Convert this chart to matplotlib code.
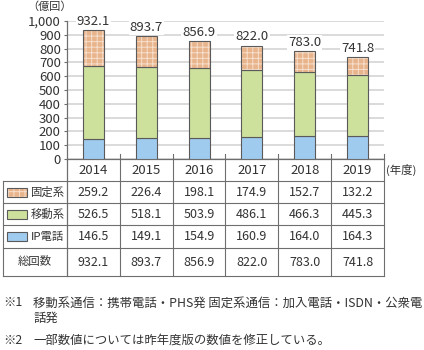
import matplotlib
matplotlib.use("Agg")
import matplotlib.pyplot as plt
from matplotlib.patches import Rectangle
from matplotlib.transforms import blended_transform_factory

plt.rcParams['font.family'] = ['Noto Sans CJK JP', 'DejaVu Sans']
plt.rcParams['hatch.linewidth'] = 0.7

years = ['2014', '2015', '2016', '2017', '2018', '2019']
fixed = [259.2, 226.4, 198.1, 174.9, 152.7, 132.2]
mobile = [526.5, 518.1, 503.9, 486.1, 466.3, 445.3]
ip_phone = [146.5, 149.1, 154.9, 160.9, 164.0, 164.3]
total = [932.1, 893.7, 856.9, 822.0, 783.0, 741.8]
series_names = ['固定系', '移動系', 'IP電話']
total_name = '総回数'
yticks = [0, 100, 200, 300, 400, 500, 600, 700, 800, 900, 1000]

C_FIXED = '#E8B48C'
C_HATCH = '#F6DFCC'
C_MOBILE = '#CDE09C'
C_IP = '#9FCBEF'
EDGE = '#5a5a5a'
GRID = '#d4d4d4'
LINE = '#6e6e6e'
TXT = '#333333'

W, H = 424, 350
fig = plt.figure(figsize=(W / 100, H / 100), dpi=100)


def fx(p):
    return p / W


def fy(p):
    return 1 - p / H


ax = fig.add_axes([fx(67), fy(159), fx(384) - fx(67), fy(21) - fy(159)])
x = list(range(len(years)))
bw = 0.4

bottom_mobile = ip_phone
bottom_fixed = [a + b for a, b in zip(ip_phone, mobile)]

ax.bar(x, ip_phone, bw, color=C_IP, edgecolor=EDGE, linewidth=0.8, zorder=3)
ax.bar(x, mobile, bw, bottom=bottom_mobile, color=C_MOBILE, edgecolor=EDGE,
       linewidth=0.8, zorder=3)
# checkered fill: light hatch first, then the dark outline on top
ax.bar(x, fixed, bw, bottom=bottom_fixed, color=C_FIXED, edgecolor=C_HATCH,
       hatch='+++', linewidth=0, zorder=3)
ax.bar(x, fixed, bw, bottom=bottom_fixed, facecolor='none', edgecolor=EDGE,
       linewidth=0.8, zorder=4)

for xi, t in zip(x, total):
    ax.annotate(f'{t:.1f}', (xi, t), xytext=(0, 1.5), textcoords='offset points',
                ha='center', va='bottom', fontsize=9.5, color=TXT, zorder=5,
                bbox=dict(boxstyle='square,pad=0.08', fc='white', ec='none'))

ax.set_xlim(-0.5, len(years) - 0.5)
ax.set_ylim(0, 1000)
ax.set_yticks(yticks)
ax.set_yticklabels([f'{v:,}' for v in yticks], fontsize=9.5, color=TXT)
ax.set_xticks([])
ax.yaxis.grid(True, color=GRID, linewidth=1.2, zorder=0)
ax.set_axisbelow(True)
ax.tick_params(axis='y', length=2.5, width=0.8, color=LINE, pad=2)
for s in ['top', 'right']:
    ax.spines[s].set_visible(False)
ax.spines['left'].set_color(LINE)
ax.spines['bottom'].set_color(LINE)
ax.spines['left'].set_linewidth(0.9)
ax.spines['bottom'].set_linewidth(0.9)

fig.text(fx(50), fy(7), '（億回）', ha='center', va='center', fontsize=8, color=TXT)

# table below the chart, columns aligned with the categories
tr = blended_transform_factory(ax.transData, fig.transFigure)
row_lines = [181, 203, 225, 248, 276]
x_left_px = 3


def hline(ypx):
    fig.add_artist(plt.Line2D([fx(x_left_px), fx(384)], [fy(ypx), fy(ypx)],
                              color=LINE, linewidth=0.8, transform=fig.transFigure))


for ry in row_lines:
    hline(ry)

fig.add_artist(plt.Line2D([fx(x_left_px), fx(x_left_px)], [fy(181), fy(276)],
                          color=LINE, linewidth=0.8, transform=fig.transFigure))
fig.add_artist(plt.Line2D([fx(67), fx(67)], [fy(159), fy(276)],
                          color=LINE, linewidth=0.9, transform=fig.transFigure))
for k in range(1, len(years) + 1):
    ax.plot([k - 0.5, k - 0.5], [fy(154), fy(276)], color=LINE, linewidth=0.8,
            transform=tr, clip_on=False)

for xi, yr in zip(x, years):
    ax.text(xi, fy(170), yr, transform=tr, ha='center', va='center',
            fontsize=9.5, color=TXT)
fig.text(fx(386), fy(170), '(年度)', ha='left', va='center', fontsize=8.2, color=TXT)

rows = [fixed, mobile, ip_phone]
row_centers = [(row_lines[i] + row_lines[i + 1]) / 2 for i in range(4)]
colors = [C_FIXED, C_MOBILE, C_IP]
hatches = ['+++', None, None]

for r, (vals, name, col, hat) in enumerate(zip(rows, series_names, colors, hatches)):
    yc = row_centers[r]
    if hat:
        p = Rectangle((fx(7), fy(yc + 4.5)), fx(20), fy(0) - fy(9), transform=fig.transFigure,
                      facecolor=col, edgecolor=C_HATCH, hatch=hat, linewidth=0)
        fig.add_artist(p)
    p = Rectangle((fx(7), fy(yc + 4.5)), fx(20), fy(0) - fy(9), transform=fig.transFigure,
                  facecolor=col if not hat else 'none', edgecolor=EDGE, linewidth=0.8)
    fig.add_artist(p)
    fig.text(fx(31), fy(yc), name, ha='left', va='center', fontsize=8.2, color=TXT)
    for xi, v in zip(x, vals):
        ax.text(xi, fy(yc), f'{v:.1f}', transform=tr, ha='center', va='center',
                fontsize=9, color=TXT)

yc = row_centers[3]
fig.text(fx(35), fy(yc), total_name, ha='center', va='center', fontsize=8.2, color=TXT)
for xi, v in zip(x, total):
    ax.text(xi, fy(yc), f'{v:.1f}', transform=tr, ha='center', va='center',
            fontsize=9, color=TXT)

# notes
FN = 8.9
fig.text(fx(3), fy(303), '※1', ha='left', va='center', fontsize=FN, color=TXT)
fig.text(fx(33), fy(303), '移動系通信：携帯電話・PHS発 固定系通信：加入電話・ISDN・公衆電',
         ha='left', va='center', fontsize=FN, color=TXT)
fig.text(fx(33), fy(318), '話発', ha='left', va='center', fontsize=FN, color=TXT)
fig.text(fx(3), fy(340), '※2', ha='left', va='center', fontsize=FN, color=TXT)
fig.text(fx(33), fy(340), '一部数値については昨年度版の数値を修正している。',
         ha='left', va='center', fontsize=FN, color=TXT)

fig.savefig('out.png', dpi=100)
